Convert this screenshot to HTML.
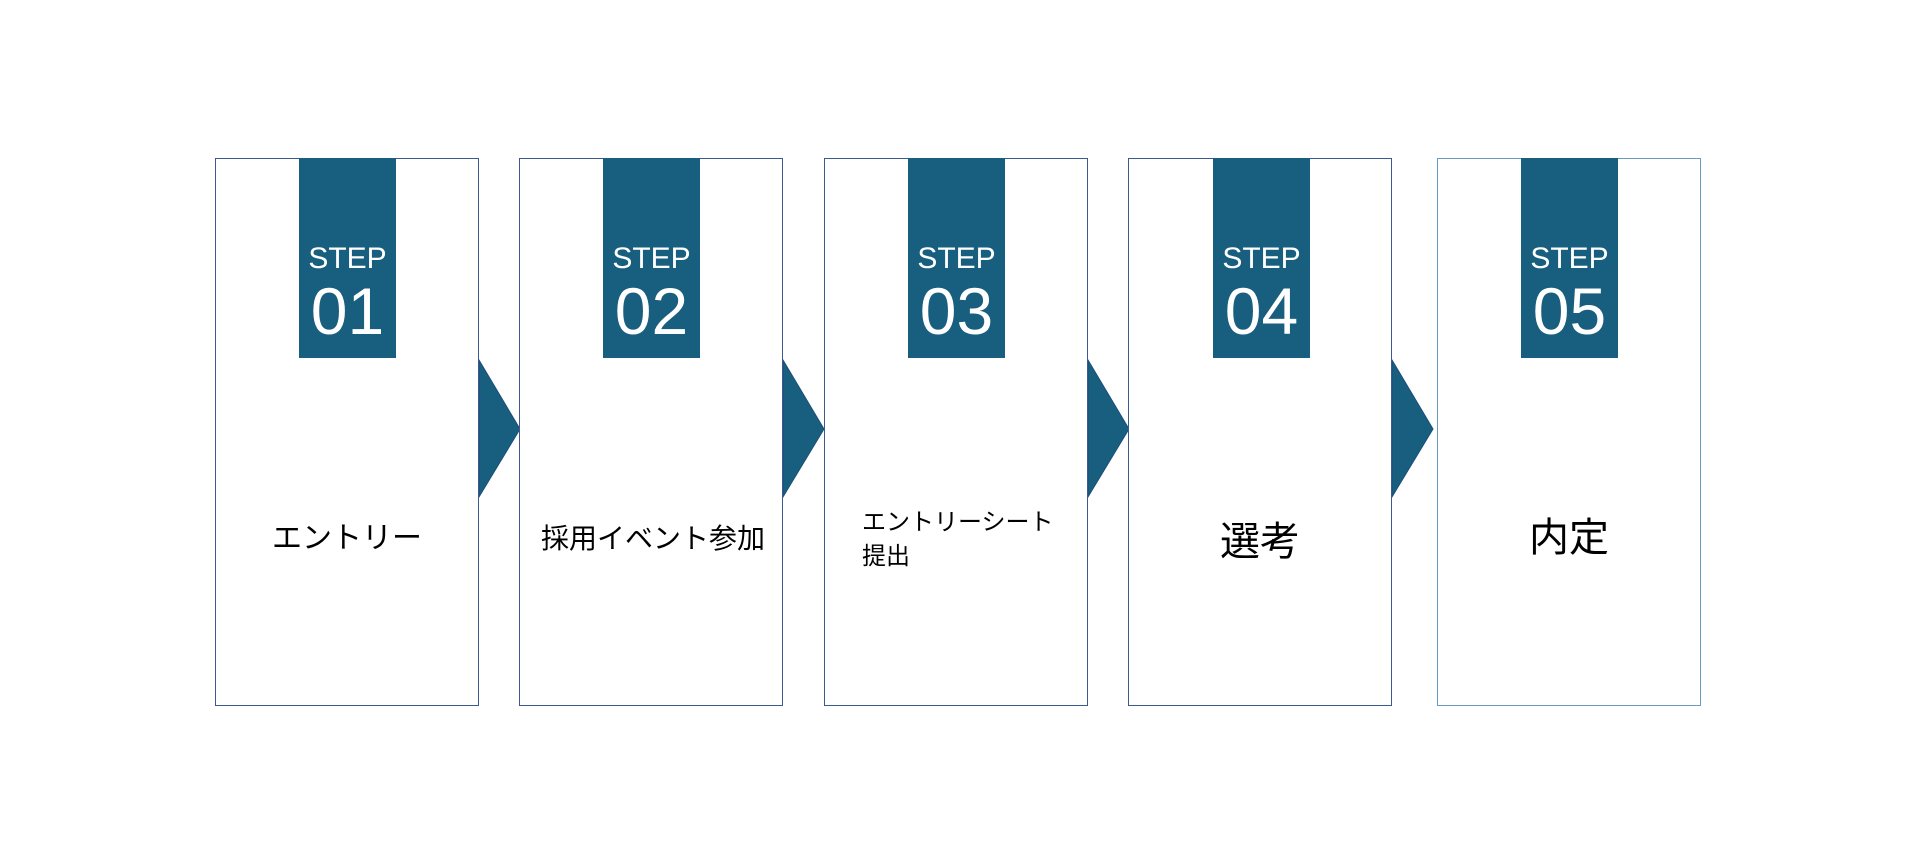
<!DOCTYPE html>
<html><head><meta charset="utf-8"><style>
html,body{margin:0;padding:0;background:#fff;width:1920px;height:864px;overflow:hidden;position:relative;font-family:"Liberation Sans","Noto Sans CJK JP",sans-serif}
.box{position:absolute;top:158px;width:264px;height:548px;border:1.5px solid #3d5a8e;box-sizing:border-box;background:#fff}
.tab{position:absolute;top:158px;width:97px;height:200px;background:#175e7f;color:#fff;text-align:center}
.tab .s{position:absolute;top:86px;left:0;right:0;font-size:30px;line-height:30px}
.tab .n{position:absolute;top:120px;left:0;right:0;font-size:66px;line-height:66px}
.lbl{position:absolute;color:#000;text-align:center;line-height:1}
svg{position:absolute;left:0;top:0}
</style></head><body>
<svg width="1920" height="864">
<polygon points="479,360 520,429 479,497" fill="#175e7f" stroke="#1d4f7a" stroke-width="1"/>
<polygon points="783,360 824,429 783,497" fill="#175e7f" stroke="#1d4f7a" stroke-width="1"/>
<polygon points="1088,360 1129,429 1088,497" fill="#175e7f" stroke="#1d4f7a" stroke-width="1"/>
<polygon points="1392,360 1433,429 1392,497" fill="#175e7f" stroke="#1d4f7a" stroke-width="1"/>
</svg>
<div class="box" style="left:215px"></div>
<div class="box" style="left:519px"></div>
<div class="box" style="left:824px"></div>
<div class="box" style="left:1128px"></div>
<div class="box" style="left:1437px;border-color:#6a9bbf"></div>
<div class="tab" style="left:299px"><div class="s">STEP</div><div class="n">01</div></div>
<div class="tab" style="left:603px"><div class="s">STEP</div><div class="n">02</div></div>
<div class="tab" style="left:908px"><div class="s">STEP</div><div class="n">03</div></div>
<div class="tab" style="left:1213px"><div class="s">STEP</div><div class="n">04</div></div>
<div class="tab" style="left:1521px"><div class="s">STEP</div><div class="n">05</div></div>
<div class="lbl" style="left:215px;width:264px;top:524px;font-size:30px">エントリー</div>
<div class="lbl" style="left:521px;width:264px;top:525px;font-size:28px">採用イベント参加</div>
<div class="lbl" style="left:862px;top:506px;font-size:24px;text-align:left;line-height:34px">エントリーシート<br>提出</div>
<div class="lbl" style="left:1128px;width:264px;top:522px;font-size:40px">選考</div>
<div class="lbl" style="left:1437px;width:264px;top:518px;font-size:40px">内定</div>
</body></html>
